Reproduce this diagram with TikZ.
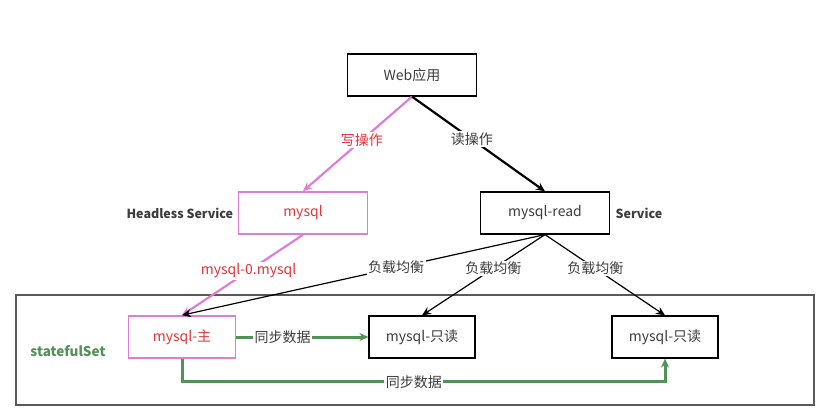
\documentclass[tikz,border=0pt]{standalone}
\usepackage{fontspec}
\setmainfont{Noto Sans CJK SC}
\usetikzlibrary{positioning}
\usetikzlibrary{calc}
\usetikzlibrary{arrows.meta}
\definecolor{pinkline}{RGB}{222,125,214}
\definecolor{redtext}{RGB}{226,52,58}
\definecolor{syncgreen}{RGB}{82,145,88}
\definecolor{graytext}{RGB}{60,60,60}

\begin{document}
\begin{tikzpicture}[x=1pt,y=-1pt,
	box/.style={draw=black,line width=1.2pt,minimum width=129pt,minimum height=42pt,text=graytext,font=\fontsize{14}{16}\selectfont},
	pinkbox/.style={draw=pinkline,line width=1.6pt,text=redtext},
	tag/.style={font=\fontsize{12.5}{14}\selectfont\bfseries,text=graytext},
	lbl/.style={fill=white,inner sep=1.5pt,font=\fontsize{14}{16}\selectfont,text=graytext},
	tip/.style={-{Stealth[length=9pt,width=8pt]}}]
	\useasboundingbox (0,0) rectangle (823,415);
	
	% statefulSet frame
	\draw[draw=black!65,line width=1.3pt] (16,295) rectangle (814,405);
	
	% top
	\node[box] (web) at (412,75) {Web应用};
	\node[box,pinkbox] (svc) at (303,213) {mysql};
	\node[box] (read) at (545,213) {mysql-read};
	\node[tag,left=1pt of svc] (svctag) {Headless Service};
	\node[tag,right=2pt of read] (readtag) {Service};
	
	% pods
	\node[box,pinkbox,minimum width=107pt] (master) at (182,337) {mysql-主};
	\node[box,minimum width=106pt] (slave1) at (422,337) {mysql-只读};
	\node[box,minimum width=106pt] (slave2) at (665,337) {mysql-只读};
	\node[tag,text=syncgreen,font=\fontsize{13.5}{15}\selectfont\bfseries] (sts) at (68,351) {statefulSet};
	
	% write / read
	\draw[tip,draw=pinkline,line width=2.2pt] (web.south) -- (svc.north)
		node[lbl,text=redtext,pos=0.46] {写操作};
	\draw[tip,line width=2.2pt] (web.south) -- (read.north)
		node[lbl,pos=0.45] {读操作};
	\draw[tip,draw=pinkline,line width=2.2pt] (svc.south) -- (master.north)
		node[lbl,text=redtext,pos=0.45] {mysql-0.mysql};
	
	% load balancing
	\draw[tip,line width=1.2pt] (read.south) -- (master.north) node[lbl,pos=0.41] {负载均衡};
	\draw[tip,line width=1.2pt] (read.south) -- (slave1.north) node[lbl,pos=0.42] {负载均衡};
	\draw[tip,line width=1.2pt] (read.south) -- (slave2.north) node[lbl,pos=0.42] {负载均衡};
	
	% sync
	\coordinate (bend) at ($(master.south)+(0,23)$);
	\draw[tip,draw=syncgreen,line width=3pt] (master.east) -- (slave1.west)
		node[lbl,pos=0.35] {同步数据};
	\draw[tip,draw=syncgreen,line width=3pt] (master.south) -- (bend) -| (slave2.south)
		node[lbl,pos=0.24] {同步数据};
\end{tikzpicture}
\end{document}
